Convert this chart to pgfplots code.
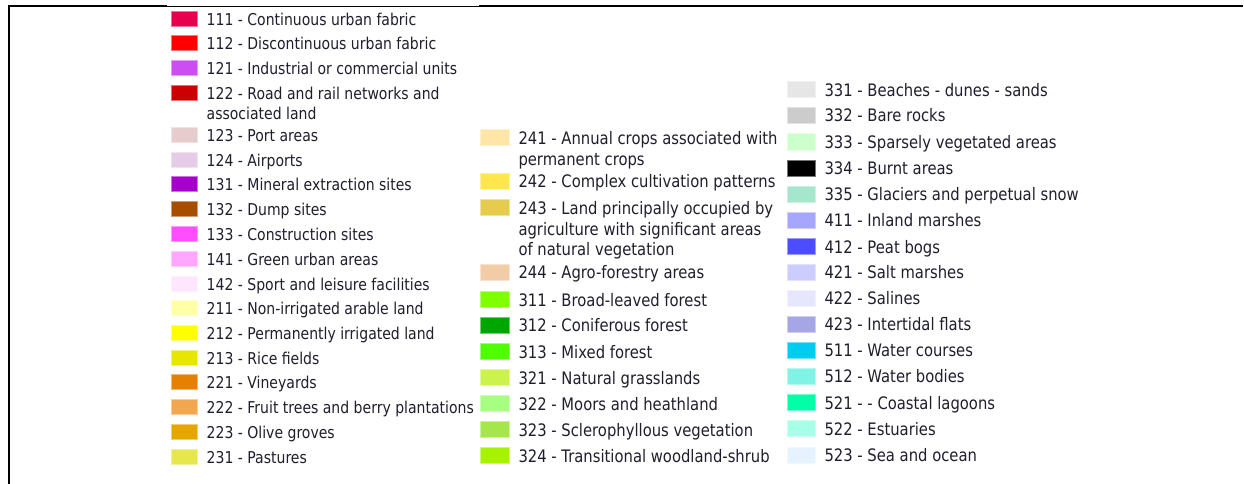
\documentclass[border=0pt]{standalone}
\usepackage{fontspec}
\setmainfont{DejaVu Sans}[FakeStretch=0.86]
\usepackage{pgfplots}
\pgfplotsset{compat=1.18}
\definecolor{txt}{RGB}{30,30,45}
\definecolor{c111}{RGB}{230,0,77}
\definecolor{c112}{RGB}{255,0,0}
\definecolor{c121}{RGB}{204,77,242}
\definecolor{c122}{RGB}{204,0,0}
\definecolor{c123}{RGB}{230,204,204}
\definecolor{c124}{RGB}{230,204,230}
\definecolor{c131}{RGB}{166,0,204}
\definecolor{c132}{RGB}{166,77,0}
\definecolor{c133}{RGB}{255,77,255}
\definecolor{c141}{RGB}{255,166,255}
\definecolor{c142}{RGB}{255,230,255}
\definecolor{c211}{RGB}{255,255,168}
\definecolor{c212}{RGB}{255,255,0}
\definecolor{c213}{RGB}{230,230,0}
\definecolor{c221}{RGB}{230,128,0}
\definecolor{c222}{RGB}{242,166,77}
\definecolor{c223}{RGB}{230,166,0}
\definecolor{c231}{RGB}{230,230,77}
\definecolor{c241}{RGB}{255,230,166}
\definecolor{c242}{RGB}{255,230,77}
\definecolor{c243}{RGB}{230,204,77}
\definecolor{c244}{RGB}{242,204,166}
\definecolor{c311}{RGB}{128,255,0}
\definecolor{c312}{RGB}{0,166,0}
\definecolor{c313}{RGB}{77,255,0}
\definecolor{c321}{RGB}{204,242,77}
\definecolor{c322}{RGB}{166,255,128}
\definecolor{c323}{RGB}{166,230,77}
\definecolor{c324}{RGB}{166,242,0}
\definecolor{c331}{RGB}{230,230,230}
\definecolor{c332}{RGB}{204,204,204}
\definecolor{c333}{RGB}{204,255,204}
\definecolor{c334}{RGB}{0,0,0}
\definecolor{c335}{RGB}{166,230,204}
\definecolor{c411}{RGB}{166,166,255}
\definecolor{c412}{RGB}{77,77,255}
\definecolor{c421}{RGB}{204,204,255}
\definecolor{c422}{RGB}{230,230,255}
\definecolor{c423}{RGB}{166,166,230}
\definecolor{c511}{RGB}{0,204,242}
\definecolor{c512}{RGB}{128,242,230}
\definecolor{c521}{RGB}{0,255,166}
\definecolor{c522}{RGB}{166,255,230}
\definecolor{c523}{RGB}{230,242,255}
\tikzset{lbl/.style={anchor=west, inner sep=0pt, text=txt, yshift=-3pt,
    text height=0.73em, text depth=0pt},
  lblA/.style={lbl, font=\fontsize{16.3}{19}\selectfont},
  lblB/.style={lbl, font=\fontsize{17.2}{20}\selectfont}}
% swatches: centre x, y, colour
\newcommand{\swA}[3]{\addplot[only marks, mark=square*, mark size=7.5pt,
  mark options={xscale=1.72, fill=#3, draw=#3!55!white, line width=1pt}] coordinates {(#1,#2)};}
\newcommand{\swB}[3]{\addplot[only marks, mark=square*, mark size=8pt,
  mark options={xscale=1.76, fill=#3, draw=#3!55!white, line width=1pt}] coordinates {(#1,#2)};}
\newcommand{\labA}[3]{\node[lblA] at (axis cs:#1,#2) {#3};}
\newcommand{\labB}[3]{\node[lblB] at (axis cs:#1,#2) {#3};}
\begin{document}
\begin{tikzpicture}
\begin{axis}[name=ax,
  width=1244pt, height=484pt, scale only axis,
  xmin=0, xmax=1244, ymin=0, ymax=484, y dir=reverse,
  hide axis, clip=false]
% frame
\addplot[black, line width=2pt] coordinates {(8.5,484)(8.5,6)(167,6)};
\addplot[black, line width=1pt] coordinates {(167,6.5)(479,6.5)};
\addplot[black, line width=2pt] coordinates {(479,6)(1243,6)};
% column 1
\swA{184.5}{19}{c111}   \labA{206.5}{19}{111 - Continuous urban fabric}
\swA{184.5}{43}{c112}   \labA{206.5}{43}{112 - Discontinuous urban fabric}
\swA{184.5}{68}{c121}   \labA{206.5}{68}{121 - Industrial or commercial units}
\swA{184.5}{93}{c122}   \labA{206.5}{93}{122 - Road and rail networks and}
                        \labA{206.5}{112.8}{associated land}
\swA{184.5}{135}{c123}  \labA{206.5}{135}{123 - Port areas}
\swA{184.5}{159.5}{c124} \labA{206.5}{159.5}{124 - Airports}
\swA{184.5}{184}{c131}  \labA{206.5}{184}{131 - Mineral extraction sites}
\swA{184.5}{209}{c132}  \labA{206.5}{209}{132 - Dump sites}
\swA{184.5}{234}{c133}  \labA{206.5}{234}{133 - Construction sites}
\swA{184.5}{259}{c141}  \labA{206.5}{259}{141 - Green urban areas}
\swA{184.5}{283.7}{c142} \labA{206.5}{283.7}{142 - Sport and leisure facilities}
\swA{184.5}{308.3}{c211} \labA{206.5}{308.3}{211 - Non-irrigated arable land}
\swA{184.5}{333}{c212}  \labA{206.5}{333}{212 - Permanently irrigated land}
\swA{184.5}{357.5}{c213} \labA{206.5}{357.5}{213 - Rice fields}
\swA{184.5}{382}{c221}  \labA{206.5}{382}{221 - Vineyards}
\swA{184.5}{406.7}{c222} \labA{206.5}{406.7}{222 - Fruit trees and berry plantations}
\swA{184.5}{432}{c223}  \labA{206.5}{432}{223 - Olive groves}
\swA{184.5}{457}{c231}  \labA{206.5}{457}{231 - Pastures}
% column 2
\swB{495}{137.7}{c241}  \labB{518.3}{137.7}{241 - Annual crops associated with}
                        \labB{518.3}{158.4}{permanent crops}
\swB{495}{181.3}{c242}  \labB{518.3}{181.3}{242 - Complex cultivation patterns}
\swB{495}{207.7}{c243}  \labB{518.3}{207.7}{243 - Land principally occupied by}
                        \labB{518.3}{228.4}{agriculture with significant areas}
                        \labB{518.3}{249.1}{of natural vegetation}
\swB{495}{272.3}{c244}  \labB{518.3}{272.3}{244 - Agro-forestry areas}
\swB{495}{299.5}{c311}  \labB{518.3}{299.5}{311 - Broad-leaved forest}
\swB{495}{325.3}{c312}  \labB{518.3}{325.3}{312 - Coniferous forest}
\swB{495}{351.7}{c313}  \labB{518.3}{351.7}{313 - Mixed forest}
\swB{495}{377.7}{c321}  \labB{518.3}{377.7}{321 - Natural grasslands}
\swB{495}{403.7}{c322}  \labB{518.3}{403.7}{322 - Moors and heathland}
\swB{495}{429.7}{c323}  \labB{518.3}{429.7}{323 - Sclerophyllous vegetation}
\swB{495}{455.7}{c324}  \labB{518.3}{455.7}{324 - Transitional woodland-shrub}
% column 3
\swB{801.7}{89.7}{c331}  \labB{824.3}{89.7}{331 - Beaches - dunes - sands}
\swB{801.7}{115.3}{c332} \labB{824.3}{115.3}{332 - Bare rocks}
\swB{801.7}{142}{c333}   \labB{824.3}{142}{333 - Sparsely vegetated areas}
\swB{801.7}{168}{c334}   \labB{824.3}{168}{334 - Burnt areas}
\swB{801.7}{194.3}{c335} \labB{824.3}{194.3}{335 - Glaciers and perpetual snow}
\swB{801.7}{220.3}{c411} \labB{824.3}{220.3}{411 - Inland marshes}
\swB{801.7}{246.7}{c412} \labB{824.3}{246.7}{412 - Peat bogs}
\swB{801.7}{272.3}{c421} \labB{824.3}{272.3}{421 - Salt marshes}
\swB{801.7}{298.3}{c422} \labB{824.3}{298.3}{422 - Salines}
\swB{801.7}{324.3}{c423} \labB{824.3}{324.3}{423 - Intertidal flats}
\swB{801.7}{350.3}{c511} \labB{824.3}{350.3}{511 - Water courses}
\swB{801.7}{376.3}{c512} \labB{824.3}{376.3}{512 - Water bodies}
\swB{801.7}{402.7}{c521} \labB{824.3}{402.7}{521 - - Coastal lagoons}
\swB{801.7}{428.7}{c522} \labB{824.3}{428.7}{522 - Estuaries}
\swB{801.7}{455}{c523}   \labB{824.3}{455}{523 - Sea and ocean}
\end{axis}
\pgfresetboundingbox
\path (ax.south west) rectangle (ax.north east);
\end{tikzpicture}
\end{document}
